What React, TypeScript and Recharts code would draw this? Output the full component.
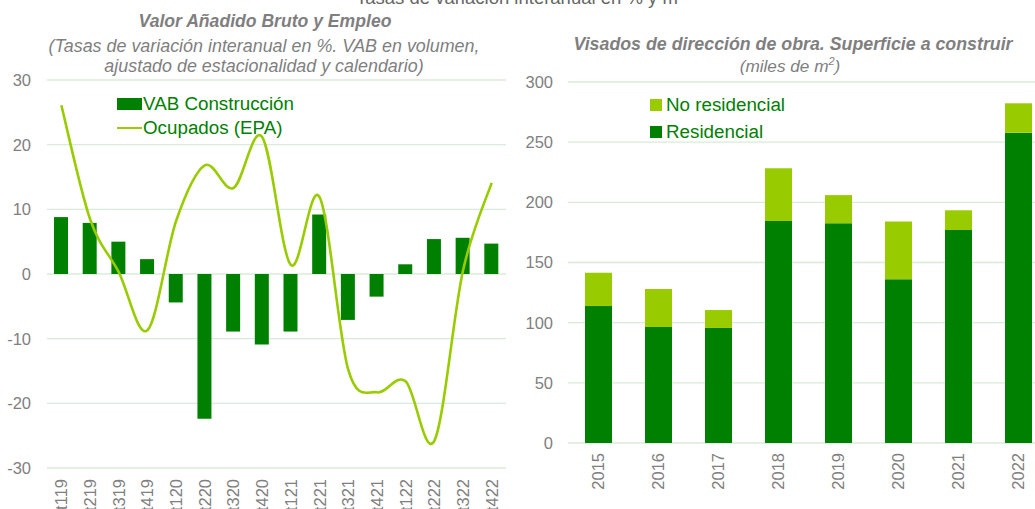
import React from "react";
import { ComposedChart, BarChart, Bar, Line, XAxis, YAxis, CartesianGrid, Legend } from "recharts";

const quarters = ["t119", "t219", "t319", "t419", "t120", "t220", "t320", "t420", "t121", "t221", "t321", "t421", "t122", "t222", "t322", "t422"];
const vabConstruccion = [8.8, 7.9, 5.0, 2.3, -4.4, -22.4, -8.9, -10.9, -8.9, 9.2, -7.1, -3.5, 1.5, 5.4, 5.6, 4.7];
const ocupadosEpa = [26.1, 8.5, 0.3, -8.7, 8.2, 16.8, 13.3, 21.2, 1.4, 11.9, -14.8, -18.3, -16.6, -25.8, 0.5, 14.1];
const leftTicks = [-30, -20, -10, 0, 10, 20, 30];

const years = ["2015", "2016", "2017", "2018", "2019", "2020", "2021", "2022"];
const residencial = [113.8, 96.4, 95.6, 184.5, 182.6, 136, 177, 257.9];
const noResidencial = [27.7, 31.6, 14.9, 43.8, 23.4, 48, 16.4, 24.4];
const rightTicks = [0, 50, 100, 150, 200, 250, 300];

const DARK = "#008000";
const LIGHT = "#99cc00";
const GRID = "#d9ecd9";
const AXIS_TEXT = "#808080";
const TITLE = "#7f7f7f";
const FONT = "'Liberation Sans', Arial, sans-serif";

const quarterData = quarters.map((q, i) => ({ q, vab: vabConstruccion[i], ocup: ocupadosEpa[i] }));
const yearData = years.map((y, i) => ({ y, res: residencial[i], nores: noResidencial[i] }));

// smooth line like the spreadsheet one (catmull-rom through the points)
const smoothCurve: any = (ctx: any) => {
  let pts: number[][] = [];
  return {
    areaStart() {},
    areaEnd() {},
    lineStart() { pts = []; },
    point(x: number, y: number) { pts.push([+x, +y]); },
    lineEnd() {
      const n = pts.length;
      if (!n) return;
      ctx.moveTo(pts[0][0], pts[0][1]);
      for (let i = 0; i < n - 1; i++) {
        const p0 = pts[i - 1] || pts[i];
        const p1 = pts[i];
        const p2 = pts[i + 1];
        const p3 = pts[i + 2] || p2;
        ctx.bezierCurveTo(
          p1[0] + (p2[0] - p0[0]) / 6, p1[1] + (p2[1] - p0[1]) / 6,
          p2[0] - (p3[0] - p1[0]) / 6, p2[1] - (p3[1] - p1[1]) / 6,
          p2[0], p2[1]
        );
      }
    },
  };
};

function RotatedTick({ x, y, payload, gap }: any) {
  const ty = y + gap;
  return (
    <text x={x} y={ty} transform={`rotate(-90, ${x}, ${ty})`} textAnchor="end" dominantBaseline="central"
      fill={AXIS_TEXT} fontSize={16.5} fontFamily={FONT}>
      {payload.value}
    </text>
  );
}

function LegendBox({ items, rowGap }: { items: { name: string; color: string; kind: string }[]; rowGap: number }) {
  return (
    <div style={{ fontFamily: FONT, fontSize: 18.8, color: DARK }}>
      {items.map((it) => (
        <div key={it.name} style={{ display: "flex", alignItems: "center", height: rowGap, whiteSpace: "nowrap" }}>
          {it.kind === "line" ? (
            <span style={{ display: "inline-block", width: 25, height: 2.5, background: it.color, marginRight: 1 }} />
          ) : it.kind === "wide" ? (
            <span style={{ display: "inline-block", width: 25, height: 12, background: it.color, marginRight: 1 }} />
          ) : (
            <span style={{ display: "inline-block", width: 12, height: 12, background: it.color, marginRight: 4 }} />
          )}
          <span>{it.name}</span>
        </div>
      ))}
    </div>
  );
}

export default function App() {
  return (
    <div style={{ position: "absolute", left: 0, top: 0, width: 1035, height: 509, overflow: "hidden", background: "#fff" }}>
      <div style={{ position: "absolute", left: 0, top: 0 }}>
        <ComposedChart width={520} height={509} data={quarterData} margin={{ top: 80, right: 14, bottom: 0, left: 7 }}>
          <CartesianGrid vertical={false} stroke={GRID} strokeWidth={1.3} />
          <XAxis dataKey="q" height={41} axisLine={false} tickLine={false} tickSize={0} tickMargin={0} interval={0}
            tick={<RotatedTick gap={11} />} />
          <YAxis width={40} domain={[-30, 30]} ticks={leftTicks} axisLine={false} tickLine={false} tickMargin={10}
            tick={{ fill: AXIS_TEXT, fontSize: 16.5, fontFamily: FONT }} />
          <Legend
            layout="horizontal"
            verticalAlign="middle"
            align="center"
            wrapperStyle={{ position: "absolute", left: 117, top: 92, width: "auto" }}
            content={() => (
              <LegendBox rowGap={24} items={[
                { name: "VAB Construcción", color: DARK, kind: "wide" },
                { name: "Ocupados (EPA)", color: LIGHT, kind: "line" },
              ]} />
            )}
          />
          <Bar dataKey="vab" name="VAB Construcción" fill={DARK} barSize={14} isAnimationActive={false} />
          <Line dataKey="ocup" name="Ocupados (EPA)" type={smoothCurve} stroke={LIGHT} strokeWidth={2.6} dot={false}
            activeDot={false} isAnimationActive={false} />
        </ComposedChart>
      </div>

      <div style={{ position: "absolute", left: 520, top: 0 }}>
        <BarChart width={540} height={509} data={yearData} margin={{ top: 82, right: 12, bottom: 0, left: 8 }}>
          <CartesianGrid vertical={false} stroke={GRID} strokeWidth={1.3} />
          <XAxis dataKey="y" height={66} axisLine={false} tickLine={false} tickSize={0} tickMargin={0} interval={0}
            tick={<RotatedTick gap={10} />} />
          <YAxis width={40} domain={[0, 300]} ticks={rightTicks} axisLine={false} tickLine={false} tickMargin={9}
            tick={{ fill: AXIS_TEXT, fontSize: 16.5, fontFamily: FONT }} />
          <Legend
            layout="horizontal"
            verticalAlign="middle"
            align="center"
            wrapperStyle={{ position: "absolute", left: 130, top: 91, width: "auto" }}
            content={() => (
              <LegendBox rowGap={27} items={[
                { name: "No residencial", color: LIGHT, kind: "square" },
                { name: "Residencial", color: DARK, kind: "square" },
              ]} />
            )}
          />
          <Bar dataKey="res" name="Residencial" stackId="s" fill={DARK} barSize={27} isAnimationActive={false} />
          <Bar dataKey="nores" name="No residencial" stackId="s" fill={LIGHT} barSize={27} isAnimationActive={false} />
        </BarChart>
      </div>

      <svg width={1035} height={509} style={{ position: "absolute", left: 0, top: 0, pointerEvents: "none" }} fontFamily={FONT}>
        <text x={520} y={4} textAnchor="middle" fontSize={18.5} fill="#666">Tasas de variación interanual en % y m²</text>
        <text x={265} y={27} textAnchor="middle" fontSize={17.6} fontWeight="bold" fontStyle="italic" fill={TITLE}>
          Valor Añadido Bruto y Empleo
        </text>
        <text x={264} y={52} textAnchor="middle" fontSize={17.9} fontStyle="italic" fill={TITLE}>
          (Tasas de variación interanual en %. VAB en volumen,
        </text>
        <text x={264} y={72} textAnchor="middle" fontSize={17.9} fontStyle="italic" fill={TITLE}>
          ajustado de estacionalidad y calendario)
        </text>
        <text x={793} y={50} textAnchor="middle" fontSize={17.8} fontWeight="bold" fontStyle="italic" fill={TITLE}>
          Visados de dirección de obra. Superficie a construir
        </text>
        <text x={790} y={72} textAnchor="middle" fontSize={17.2} fontStyle="italic" fill={TITLE}>
          (miles de m<tspan dy={-7} fontSize={11}>2</tspan><tspan dy={7}>)</tspan>
        </text>
      </svg>
    </div>
  );
}
